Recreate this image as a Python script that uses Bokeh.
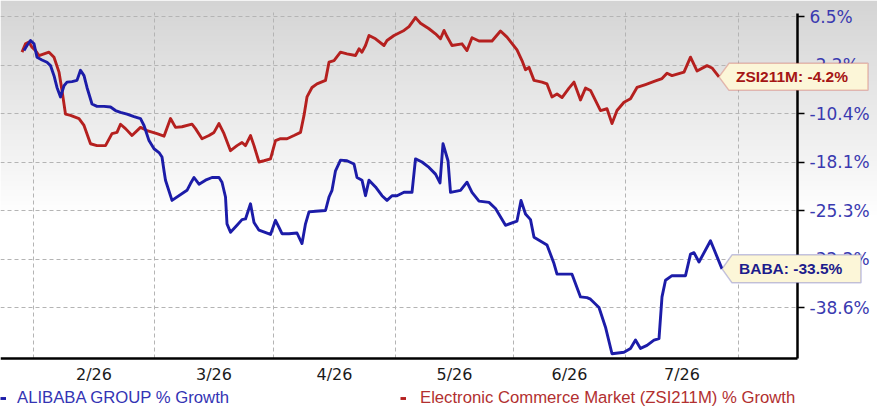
import numpy as np
from bokeh.plotting import figure
from bokeh.models import (Range1d, FixedTicker, Legend, LegendItem, Label,
                          PolyAnnotation, Grid)
from bokeh.embed import file_html
from bokeh.resources import INLINE

# ---------------- data ----------------
month_labels = ["2/26", "3/26", "4/26", "5/26", "6/26", "7/26"]
month_start_day = [5.2, 29.4, 53.2, 77.6, 101.2, 123.6, 146.2]

y_tick_labels = ["6.5%", "-2.2%", "-10.4%", "-18.1%", "-25.3%", "-32.2%", "-38.6%"]
y_tick_values = [6.5, -2.2, -10.4, -18.1, -25.3, -32.2, -38.6]
y_scale_floor = -45.0   # one more step of the axis scale below the last tick

zsi_day = [2.9, 3.6, 4.3, 4.9, 5.6, 6.3, 7.3, 8.3, 9.3, 10.3,
           10.9, 11.6, 12.6, 14.3, 15.3, 16.6, 17.9, 19.6, 20.9, 21.9,
           22.6, 23.6, 24.9, 26.6, 27.9, 29.9, 31.3, 32.6, 33.6, 34.9,
           36.9, 37.6, 38.9, 40.3, 41.3, 42.3, 43.3, 44.6, 45.9, 46.9,
           47.6, 48.6, 49.3, 50.3, 51.3, 52.6, 53.6, 54.6, 55.9, 57.3,
           58.6, 59.3, 59.9, 60.9, 61.9, 63.6, 64.3, 65.3, 66.6, 67.9,
           69.6, 70.3, 70.9, 71.6, 72.3, 73.6, 75.3, 75.9, 77.3, 79.3,
           80.3, 81.6, 82.6, 84.3, 85.6, 86.6, 87.3, 87.9, 88.9, 90.9,
           91.9, 92.9, 94.3, 96.9, 98.6, 99.9, 101.9, 102.9, 103.6, 104.3,
           105.3, 106.9, 107.9, 108.9, 109.9, 110.9, 112.3, 113.3, 114.6, 115.6,
           116.6, 118.6, 119.9, 120.9, 121.9, 123.3, 124.6, 125.9, 127.6, 129.6,
           130.9, 131.9, 132.9, 135.3, 136.6, 137.9, 139.9, 140.9, 142.3]
zsi_pct = [0.1, 1.6, 1.9, 1.0, 0.4, -0.5, -0.2, 0.1, -0.8, -3.4,
           -6.5, -10.5, -10.7, -11.2, -12.3, -15.2, -15.5, -15.5, -13.6, -13.4,
           -12.1, -12.8, -13.9, -12.6, -13.1, -13.6, -14.0, -11.2, -12.6, -12.5,
           -12.1, -12.8, -14.4, -13.9, -13.4, -12.0, -13.6, -16.3, -15.5, -15.0,
           -15.5, -13.9, -15.5, -18.1, -17.9, -17.6, -14.7, -14.4, -14.4, -13.9,
           -13.4, -10.7, -7.6, -6.0, -5.4, -4.8, -1.7, -1.4, 0.1, -0.2,
           -0.5, 0.7, 0.1, 1.3, 3.1, 2.5, 1.3, 2.2, 3.1, 4.0,
           4.7, 6.3, 5.3, 4.3, 3.4, 2.5, 4.0, 2.9, 1.3, 1.6,
           0.4, 2.7, 2.1, 2.1, 3.9, 2.8, 0.5, -1.4, -3.0, -2.6,
           -4.8, -5.1, -5.4, -7.6, -7.1, -7.7, -6.1, -5.1, -8.1, -6.1,
           -6.5, -9.9, -9.6, -12.0, -9.9, -8.5, -7.9, -6.0, -5.5, -4.9,
           -4.5, -3.6, -4.0, -3.4, -0.8, -3.2, -2.3, -2.7, -4.2]

baba_day = [3.3, 3.9, 4.6, 5.3, 5.9, 6.9, 7.9, 8.6, 9.3, 9.9,
            10.6, 11.3, 11.9, 12.9, 13.9, 14.6, 15.3, 15.9, 16.9, 17.9,
            19.3, 20.6, 21.6, 22.6, 23.9, 25.3, 26.6, 27.3, 28.3, 29.3,
            30.3, 30.9, 31.3, 31.6, 32.9, 35.9, 36.6, 37.3, 38.3, 39.6,
            40.9, 42.3, 42.9, 43.6, 43.9, 44.6, 45.9, 46.9, 47.6, 48.6,
            49.3, 50.3, 52.6, 53.6, 54.3, 54.9, 56.3, 57.9, 58.9, 59.6,
            60.3, 61.6, 63.6, 64.3, 64.9, 65.6, 66.6, 67.9, 69.3, 69.9,
            70.9, 71.6, 72.3, 73.6, 74.9, 75.9, 76.9, 77.9, 79.3, 80.9,
            81.6, 82.9, 84.3, 85.6, 86.5, 87.1, 88.1, 88.6, 90.6, 91.9,
            92.9, 94.3, 96.3, 97.6, 99.6, 101.9, 102.7, 103.6, 104.6, 105.3,
            107.9, 109.3, 109.9, 112.9, 114.6, 115.9, 116.6, 118.3, 119.6, 120.9,
            123.3, 124.6, 125.6, 126.6, 127.9, 129.3, 130.3, 130.9, 131.6, 132.9,
            135.6, 136.6, 137.3, 138.3, 140.6, 142.9]
baba_pct = [0.4, 1.3, 2.2, 1.6, -0.8, -1.3, -1.7, -2.3, -4.0, -6.0,
            -7.6, -5.7, -5.1, -5.0, -4.8, -3.1, -4.0, -6.0, -8.8, -9.2,
            -9.2, -9.3, -9.9, -10.2, -10.5, -10.9, -11.2, -12.3, -14.7, -16.0,
            -16.6, -17.3, -19.4, -20.8, -23.8, -22.3, -21.3, -20.4, -21.4, -20.8,
            -20.4, -20.4, -21.1, -23.3, -27.2, -28.4, -27.4, -26.6, -26.5, -24.3,
            -27.0, -28.1, -28.7, -26.7, -27.7, -28.6, -28.6, -28.5, -30.0, -27.2,
            -25.5, -25.4, -25.3, -23.3, -22.3, -19.4, -17.8, -17.9, -18.4, -20.4,
            -20.8, -23.1, -20.8, -21.8, -23.1, -23.8, -23.1, -23.1, -22.6, -22.6,
            -17.6, -18.1, -18.9, -19.9, -21.2, -15.2, -17.9, -22.6, -22.3, -21.1,
            -22.6, -23.9, -24.1, -25.0, -27.4, -26.8, -23.8, -25.8, -26.6, -29.1,
            -30.2, -32.8, -34.2, -34.2, -37.2, -37.3, -37.5, -38.6, -41.2, -44.7,
            -44.5, -44.0, -42.9, -44.0, -43.6, -42.9, -42.7, -37.2, -35.0, -34.4,
            -34.4, -31.5, -31.3, -32.6, -29.6, -33.5]

# ---------------- axis scale (ticks equally spaced) ----------------
knot_vals = [y_scale_floor] + y_tick_values[::-1]
knot_pos = list(range(-1, len(y_tick_values)))
tick_pos = [len(y_tick_values) - 1 - i for i in range(len(y_tick_values))]


def to_axis(pct):
    return np.interp(np.asarray(pct, dtype=float), knot_vals, knot_pos)


# ---------------- figure / layout ----------------
W, H = 877, 412
PX = 5.0          # px per day unit
PY = 48.5         # px per tick step
x0 = -1.4
x1 = x0 + W / PX
y1 = 6.33
y0 = y1 - H / PY
x_axis_at = -1.0515      # bottom edge of plotting area
y_axis_at = 158.0        # right edge of plotting area
plot_top = 6.08

p = figure(width=W, height=H, x_range=Range1d(x0, x1), y_range=Range1d(y0, y1),
           y_axis_location="right", output_backend="svg", toolbar_location=None,
           min_border=0)
p.outline_line_color = None
p.background_fill_color = "white"
p.border_fill_color = "white"

# soft grey gradient at the top of the page
rows = 200
grad_bottom = 1.9
g = np.linspace(255, 212, rows).astype(np.uint8)
img = np.empty((rows, 1), dtype=np.uint32)
view = img.view(dtype=np.uint8).reshape((rows, 1, 4))
view[:, 0, 0] = g
view[:, 0, 1] = g
view[:, 0, 2] = g
view[:, 0, 3] = 255
p.image_rgba(image=[img], x=x0, y=grad_bottom, dw=x1 - x0, dh=y1 - grad_bottom,
             level="image")

# grids
mid = [round((a + b) / 2, 3) for a, b in zip(month_start_day[:-1], month_start_day[1:])]
p.xgrid.ticker = FixedTicker(ticks=month_start_day)
p.ygrid.ticker = FixedTicker(ticks=tick_pos)
for gr in (p.xgrid, p.ygrid):
    gr.grid_line_color = "#b4b4b4"
    gr.grid_line_dash = "4 3"
    gr.grid_line_width = 1

has_cross = "cross_bounds" in Grid.properties()
if has_cross:
    p.xgrid.cross_bounds = (x_axis_at, plot_top)
    p.ygrid.cross_bounds = (x0, y_axis_at)
else:
    # hide grid parts outside the plotting area
    p.quad(left=x0, right=x1, bottom=y0, top=x_axis_at, fill_color="white",
           line_color=None)
    p.image_rgba(image=[img], x=y_axis_at, y=grad_bottom, dw=x1 - y_axis_at,
                 dh=y1 - grad_bottom)
    p.quad(left=y_axis_at, right=x1, bottom=x_axis_at, top=grad_bottom,
           fill_color="white", line_color=None)

# x axis
xa = p.xaxis[0]
xa.fixed_location = x_axis_at
xa.bounds = (x0, y_axis_at)
xa.ticker = FixedTicker(ticks=mid)
xa.major_label_overrides = {m: lab for m, lab in zip(mid, month_labels)}
xa.axis_line_color = "black"
xa.axis_line_width = 2.5
xa.major_tick_line_color = None
xa.minor_tick_line_color = None
xa.major_label_text_font = "DejaVu Sans"
xa.major_label_text_font_size = "16px"
xa.major_label_text_color = "#1a1a1a"
xa.major_label_standoff = 0

# right y axis
ya = p.yaxis[0]
ya.fixed_location = y_axis_at
ya.bounds = (x_axis_at, 6.062)
ya.ticker = FixedTicker(ticks=tick_pos)
ya.major_label_overrides = {t: lab for t, lab in zip(tick_pos, y_tick_labels)}
ya.axis_line_color = "black"
ya.axis_line_width = 2.5
ya.major_tick_out = 7
ya.major_tick_in = 0
ya.major_tick_line_width = 1.5
ya.major_tick_line_color = "black"
ya.minor_tick_line_color = None
ya.major_label_text_font = "DejaVu Sans"
ya.major_label_text_font_size = "17px"
ya.major_label_text_color = "#3a3ab0"
ya.major_label_standoff = 5

# series
RED = "#b5201f"
BLUE = "#1c1ca8"
r_zsi = p.line(zsi_day, to_axis(zsi_pct), line_color=RED, line_width=2.9,
               line_join="round")
r_baba = p.line(baba_day, to_axis(baba_pct), line_color=BLUE, line_width=2.9,
                line_join="round")


# legends under the plotting area
def make_legend(label, rend, color, loc, standoff):
    return Legend(items=[LegendItem(label=label, renderers=[rend])], location=loc,
                  orientation="horizontal", glyph_width=6, glyph_height=16,
                  label_height=16, label_standoff=standoff, padding=0, margin=0,
                  border_line_color=None, background_fill_alpha=0,
                  label_text_color=color, label_text_font="Liberation Sans",
                  label_text_font_size="16.7px")


p.add_layout(make_legend("ALIBABA GROUP % Growth", r_baba, "#3434b4", (0, 4), 11))
p.add_layout(make_legend("Electronic Commerce Market (ZSI211M) % Growth", r_zsi,
                         "#b23030", (400, 4), 14))


# callouts at last values
def callout(x, pct, text, width, half_h, line_color, text_color):
    y = float(to_axis(pct))
    xs = [x, x + 10 / PX, x + width / PX, x + width / PX, x + 10 / PX]
    ys = [y, y + half_h / PY, y + half_h / PY, y - half_h / PY, y - half_h / PY]
    p.add_layout(PolyAnnotation(xs=xs, ys=ys, fill_color="#fcf6d8", fill_alpha=1,
                                line_color=line_color, line_width=1.5))
    p.add_layout(Label(x=x, y=y, x_offset=17, text=text, text_baseline="middle",
                       text_align="left", text_font="Liberation Sans",
                       text_font_style="bold", text_font_size="15.5px",
                       text_color=text_color))


callout(zsi_day[-1], zsi_pct[-1], f"ZSI211M: {zsi_pct[-1]:.1f}%", 149, 13.5,
        "#c43a3a", "#a51515")
callout(baba_day[-1], baba_pct[-1], f"BABA: {baba_pct[-1]:.1f}%", 139, 14,
        "#3c3cb0", "#1c1c8c")

open("out.html", "w").write(file_html(p, INLINE))
